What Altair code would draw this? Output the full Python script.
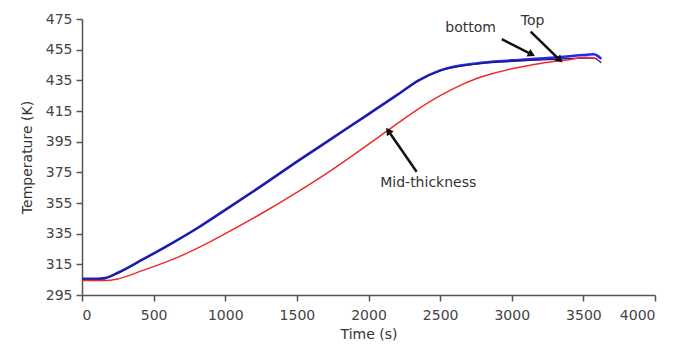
import math
import altair as alt
import pandas as pd

# ---- data ----
time_bottom = [0, 100, 160, 250, 420, 650, 820, 1000, 1250, 1500, 1750, 2000, 2200, 2350, 2500, 2750, 3000, 3250, 3500, 3570, 3600, 3625]
temp_bottom = [305.5, 305.5, 306, 309.5, 318, 330, 339.5, 350.5, 366, 382, 397.5, 413, 425.5, 435, 441.5, 446, 448, 449.5, 451.5, 452, 451, 449]

time_top = [0, 100, 160, 250, 420, 650, 820, 1000, 1250, 1500, 1750, 2000, 2200, 2350, 2500, 2750, 3000, 3250, 3500, 3570, 3625]
temp_top = [305.3, 305.3, 305.8, 309.3, 317.8, 329.8, 339.3, 350.3, 365.8, 381.8, 397.3, 412.8, 425.3, 434.8, 441.2, 445.6, 447.4, 448.5, 449.5, 449.5, 446.5]

time_mid = [0, 150, 250, 420, 650, 900, 1000, 1250, 1500, 1750, 1920, 2130, 2310, 2500, 2660, 2780, 2850, 3000, 3200, 3400, 3520, 3600]
temp_mid = [304.5, 304.5, 305.5, 310.9, 318.9, 330, 335, 348, 362, 377, 388, 402, 414, 425, 432.5, 437, 439, 442.5, 446, 448.5, 450, 449]

# annotations (arrow start -> arrow tip, in data units) and labels
arrow_x0 = [2930, 3132, 2336]
arrow_y0 = [461.9, 466.7, 375.4]
arrow_x1 = [3139, 3336, 2138]
arrow_y1 = [451.9, 448.2, 402.1]

label_text = ["bottom", "Top", "Mid-thickness"]
label_x = [2713, 3146, 2417]
label_y = [468.9, 473.8, 368.2]

x_ticks = [0, 500, 1000, 1500, 2000, 2500, 3000, 3500, 4000]
y_ticks = [295, 315, 335, 355, 375, 395, 415, 435, 455, 475]

# ---- build tables ----
W, H = 573, 276
XMIN, XMAX, YMIN, YMAX = 0, 4000, 295, 475

df = pd.concat([
    pd.DataFrame({"t": time_bottom, "T": temp_bottom, "s": "bottom"}),
    pd.DataFrame({"t": time_top, "T": temp_top, "s": "Top"}),
    pd.DataFrame({"t": time_mid, "T": temp_mid, "s": "Mid-thickness"}),
], ignore_index=True)

angles = []
for a, b, c, d in zip(arrow_x0, arrow_y0, arrow_x1, arrow_y1):
    dx = (c - a) / (XMAX - XMIN) * W
    dy = -(d - b) / (YMAX - YMIN) * H
    angles.append(math.degrees(math.atan2(dx, -dy)) % 360)

arrows = pd.DataFrame({"x0": arrow_x0, "y0": arrow_y0, "x1": arrow_x1, "y1": arrow_y1, "ang": angles})
labels = pd.DataFrame({"x": label_x, "y": label_y, "txt": label_text})

xs = alt.Scale(domain=[XMIN, XMAX], nice=False, zero=False)
ys = alt.Scale(domain=[YMIN, YMAX], nice=False, zero=False)

x_enc = alt.X("t:Q", scale=xs, axis=alt.Axis(values=x_ticks, tickCount=len(x_ticks), format="d",
                                            title="Time (s)", titlePadding=5, labelPadding=7,
                                            labelOverlap=False))
y_enc = alt.Y("T:Q", scale=ys, axis=alt.Axis(values=y_ticks, tickCount=len(y_ticks), format="d",
                                            title="Temperature (K)", titleX=-55,
                                            titleBaseline="middle", labelPadding=4,
                                            labelOverlap=False))

base = alt.Chart(df)
line_bottom = base.transform_filter(alt.datum.s == "bottom").mark_line(
    color="#2626f2", strokeWidth=2.6, interpolate="monotone").encode(x=x_enc, y=y_enc, order="t:Q")
line_top = base.transform_filter(alt.datum.s == "Top").mark_line(
    color="#1c1c80", strokeWidth=1.4, interpolate="monotone").encode(x="t:Q", y="T:Q", order="t:Q")
line_mid = base.transform_filter(alt.datum.s == "Mid-thickness").mark_line(
    color="#f02a2a", strokeWidth=1.5, interpolate="monotone").encode(x="t:Q", y="T:Q", order="t:Q")

arrow_lines = alt.Chart(arrows).mark_rule(color="#111111", strokeWidth=2.5).encode(
    x="x0:Q", y="y0:Q", x2="x1:Q", y2="y1:Q")
arrow_heads = alt.Chart(arrows).mark_point(
    shape="triangle-up", filled=True, color="#111111", size=70, opacity=1).encode(
    x="x1:Q", y="y1:Q", angle=alt.Angle("ang:Q", scale=None))

texts = alt.Chart(labels).mark_text(font="DejaVu Sans", fontSize=14, color="#333333").encode(
    x="x:Q", y="y:Q", text="txt:N")

chart = alt.layer(line_bottom, line_top, line_mid, arrow_lines, arrow_heads, texts).properties(
    width=W, height=H,
    padding={"left": 74, "top": 11, "right": 20, "bottom": 48},
    autosize=alt.AutoSizeParams(type="none"),
).configure_view(stroke=None).configure_axis(
    grid=False, domainColor="#555555", tickColor="#555555", domainWidth=1.5, tickWidth=1.5,
    tickSize=6, labelFont="DejaVu Sans", labelFontSize=14, labelColor="#444444",
    titleFont="DejaVu Sans", titleFontSize=14, titleColor="#333333", titleFontWeight="normal",
)

chart.save("out.html", embed_options={"renderer": "svg", "actions": False})
